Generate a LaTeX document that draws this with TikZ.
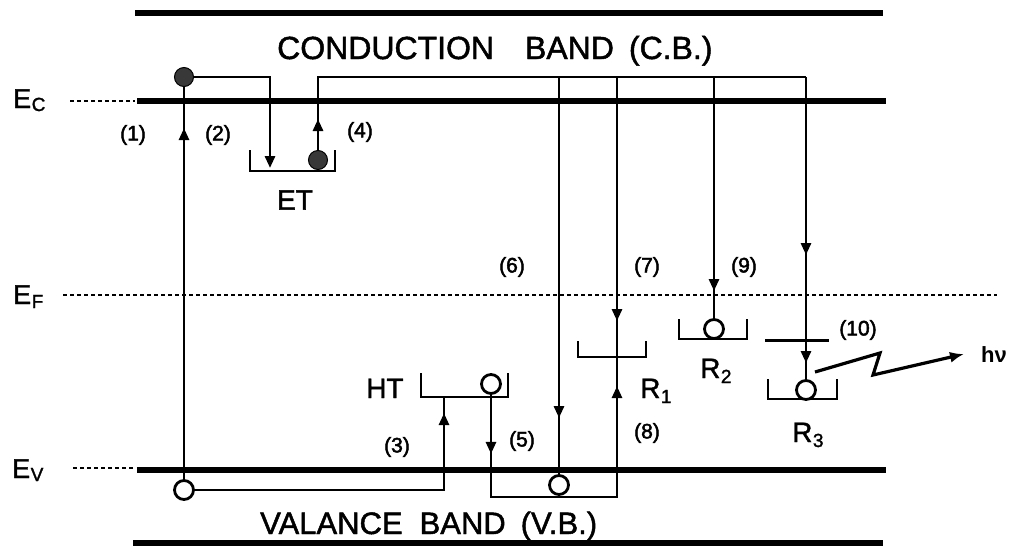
\documentclass[tikz,border=0pt]{standalone}
\usepackage{fontspec}
\setmainfont{Liberation Sans}[FakeBold=1.5]
\newfontfamily\numfont{Liberation Sans}[FakeBold=2.2]
\newfontfamily\boldsans{Liberation Sans Bold}
\usetikzlibrary{arrows.meta,decorations.markings}
\begin{document}
\begin{tikzpicture}[x=1pt,y=-1pt,
  band/.style={line width=6pt},
  trans/.style={line width=2.8pt},
  trap/.style={line width=2.8pt},
  lvl/.style={dash pattern=on 4pt off 3pt, line width=1.7pt},
  elec/.style={circle, fill=black!78, draw=black, line width=1pt, minimum size=19pt, inner sep=0pt},
  hole/.style={circle, draw=black, fill=white, line width=2.8pt, minimum size=19pt, inner sep=0pt},
  num/.style={font=\numfont\fontsize{21}{21}\selectfont, inner sep=0pt},
  big/.style={font=\fontsize{32}{32}\selectfont, inner sep=0pt},
  lab/.style={font=\fontsize{28}{28}\selectfont, inner sep=0pt},
  elab/.style={font=\fontsize{27}{27}\selectfont, inner sep=0pt, anchor=base west},
  arrat/.style={postaction={decorate}, decoration={markings, mark=at position #1 with {\arrow{Triangle[length=12pt,width=10pt]}}}},
  endtip/.style={-{Triangle[length=12pt,width=10pt]}}
]
\useasboundingbox (0,0) rectangle (1021,547);

% energy bands
\draw[band] (135,13) -- (883,13);
\draw[band] (137,101) -- (886,101);
\draw[band] (137,470) -- (886,470);
\draw[band] (133,543) -- (883,543);

% reference levels
\draw[lvl] (70,101) -- (135,101);
\draw[lvl] (63,295) -- (997,295);
\draw[lvl] (73,468) -- (135,468);

% labels
\node[elab] (Ec) at (13,108) {E\kern0.5pt\raisebox{-3pt}{\fontsize{19}{19}\selectfont C}};
\node[elab] (Ef) at (13,304) {E\kern0.5pt\raisebox{-4pt}{\fontsize{19}{19}\selectfont F}};
\node[elab] (Ev) at (12,478) {E\kern0.5pt\raisebox{-3pt}{\fontsize{19}{19}\selectfont V}};
\node[big, anchor=base west] (cb) at (277,59) {CONDUCTION\hspace{31pt}BAND\hspace{15pt}(C.B.)};
\node[font=\fontsize{31}{31}\selectfont, inner sep=0pt, anchor=base west] (vb) at (260,534) {VALANCE\hspace{17pt}BAND\hspace{15pt}(V.B.)};

% traps
\draw[trap] (250,150) |- (335,171) -- (335,150);
\draw[trap] (421,373) |- (508,397) -- (508,373);
\draw[trap] (578,341) |- (646,357) -- (646,341);
\draw[trap] (679,319) |- (747,339) -- (747,319);
\draw[trap] (768,379) |- (837,399) -- (837,379);
\draw[line width=3pt] (765,340) -- (829,340);

\node[lab] (ET) at (295,200) {ET};
\node[lab, anchor=base west] (HT) at (366,398) {HT};
\node[lab, anchor=base west] (R1) at (640,398) {R\kern0.5pt\raisebox{-5pt}{\fontsize{19}{19}\selectfont 1}};
\node[lab, anchor=base west] (R2) at (700,378) {R\kern0.5pt\raisebox{-5pt}{\fontsize{19}{19}\selectfont 2}};
\node[lab, anchor=base west] (R3) at (792,442) {R\kern0.5pt\raisebox{-5pt}{\fontsize{19}{19}\selectfont 3}};

% carriers
\node[elec] (e1) at (184,77) {};
\node[elec] (e2) at (318,160) {};
\node[hole] (h1) at (184,490) {};
\node[hole] (h2) at (491,384) {};
\node[hole] (h3) at (559,485) {};
\node[hole] (h4) at (714,329) {};
\node[hole] (h5) at (806,390) {};

% junction coordinates
\coordinate (ETin) at (270,168);
\coordinate (HTb) at (444,397);
\coordinate (R1b) at (617,357);
\coordinate (vbus) at (617,497);
\coordinate (b6) at (559,77);
\coordinate (b7) at (617,77);
\coordinate (b9) at (714,77);
\coordinate (b10) at (806,77);

% transitions
\draw[trans, arrat=351pt] (h1.north) -- (e1.south);            % (1)/(2)
\draw[trans, endtip] (e1.east) -| (ETin);                        % capture into ET
\draw[trans, arrat=31pt] (e2.north) |- (b10);                    % (4)
\draw[trans, arrat=326pt] (h1.east) -| (HTb);                    % (3)
\draw[trans, postaction={decorate}, decoration={markings,
   mark=at position 59pt with {\arrow{Triangle[length=12pt,width=10pt]}},
   mark=at position 339pt with {\arrow{Triangle[length=12pt,width=10pt]}}}]
   (h2.south) |- (vbus) -- (R1b);                                % (5),(8)
\draw[trans, arrat=341pt] (b6) -- (h3.north);                    % (6)
\draw[trans, arrat=244pt] (b7) -- (R1b);                         % (7)
\draw[trans, arrat=214pt] (b9) -- (h4.north);                    % (9)
\draw[trans, postaction={decorate}, decoration={markings,
   mark=at position 178pt with {\arrow{Triangle[length=12pt,width=10pt]}},
   mark=at position 286pt with {\arrow{Triangle[length=12pt,width=10pt]}}}]
   (b10) -- (h5.north);                                          % (10)

% photon
\node[font=\boldsans\fontsize{22}{22}\selectfont, inner sep=0pt, anchor=base west] (hnu) at (981,362) {hν};
\coordinate (z0) at (815,372);
\draw[line width=3.2pt, -{Latex[length=14pt,width=11pt]}] (z0) -- (880,353) -- (873,375) -- ([xshift=-17pt]hnu.west);

% transition numbers
\node[num] (n1) at (133,135) {(1)};
\node[num] (n2) at (218,135) {(2)};
\node[num] (n3) at (397,447) {(3)};
\node[num] (n4) at (360,132) {(4)};
\node[num] (n5) at (522,441) {(5)};
\node[num] (n6) at (512,267) {(6)};
\node[num] (n7) at (647,267) {(7)};
\node[num] (n8) at (647,433) {(8)};
\node[num] (n9) at (744,267) {(9)};
\node[num] (n10) at (858,330) {(10)};
\end{tikzpicture}
\end{document}
